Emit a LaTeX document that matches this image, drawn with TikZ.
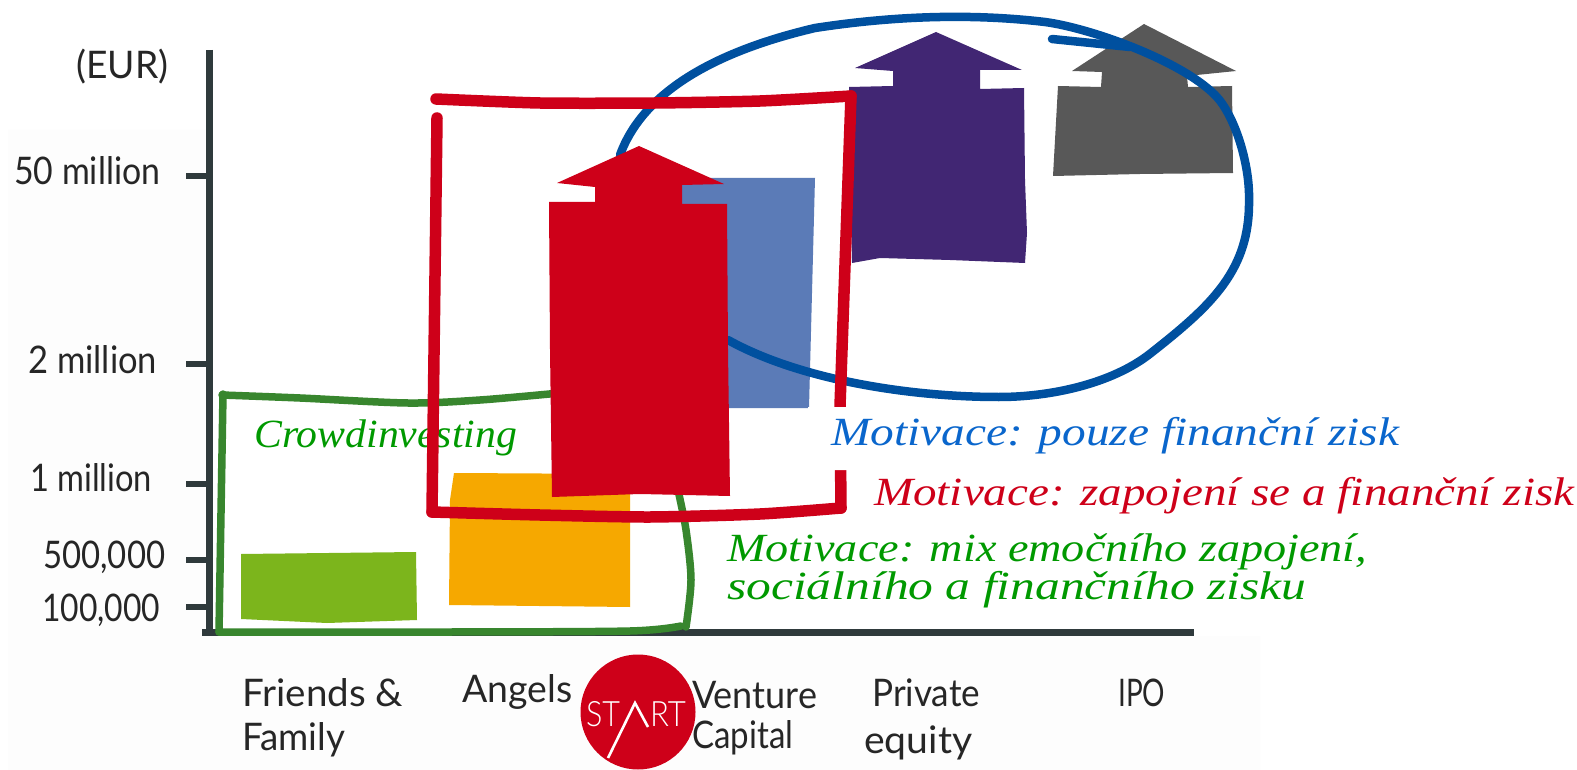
\documentclass[tikz,border=0pt]{standalone}
\usepackage{graphicx}
\usepackage{fontspec}
\setmainfont{Lato}
\newfontfamily\scriptf{Liberation Serif}
\newfontfamily\handf{Lato}
\newfontfamily\logof{Lato Light}
\definecolor{axisdark}{HTML}{2F3A3C}
\definecolor{ringblue}{HTML}{00509F}
\definecolor{startred}{HTML}{CE0019}
\definecolor{boxgreen}{HTML}{38862E}
\definecolor{txtgreen}{HTML}{009900}
\definecolor{txtblue}{HTML}{0A66CC}
\definecolor{barlime}{HTML}{7CB51C}
\definecolor{barorange}{HTML}{F6A800}
\definecolor{barblue}{HTML}{5B7BB7}
\definecolor{barpurple}{HTML}{412673}
\definecolor{bargrey}{HTML}{585858}
\definecolor{paper}{HTML}{FDFDFD}
\newcommand\fitw[2]{\resizebox{#1pt}{\height}{#2}}
\tikzset{
  x=1pt,y=-1pt,
  axisline/.style={draw=axisdark,line width=7pt},
  tickline/.style={draw=axisdark,line width=6.5pt},
  redbox/.style={draw=startred,line width=11.5pt,line join=round,line cap=round},
  greenbox/.style={draw=boxgreen,line width=7.5pt,line join=round,line cap=round},
  ring/.style={draw=ringblue,line width=8.5pt,line cap=round},
  hand/.style={inner sep=0pt,anchor=west,text=black!85,font=\handf\fontsize{38}{38}\selectfont},
  motive/.style={inner sep=0pt,anchor=base west,font=\scriptf\itshape\fontsize{40}{34}\selectfont},
}
\begin{document}
\begin{tikzpicture}
\useasboundingbox (0,0) rectangle (1577,770);
\fill[white] (0,0) rectangle (1577,770);
\fill[paper] (8,130) -- (205,130) -- (205,636) -- (1260,636) -- (1260,770) -- (8,770) -- cycle;
% bars
\fill[barlime] (241,554) -- (416,552) -- (417,620) -- (327,623) -- (241,619) -- cycle;
\fill[barorange] (454,473) -- (630,474) -- (630,607) -- (449,605) -- (450,500) -- cycle;
\fill[barblue] (680,178) -- (815,178) -- (809,408) -- (680,408) -- cycle;
\fill[barpurple] (936,32) -- (1022,70) -- (980,70) -- (980,89) -- (1024,88) -- (1025,180) -- (1027,233) -- (1025,263) -- (950,260) -- (880,258) -- (852,263) -- (849,87) -- (893,86) -- (893,71) -- (855,68) -- cycle;
\fill[bargrey] (1144,24) -- (1236,71) -- (1187,76) -- (1188,87) -- (1232,86) -- (1233,173) -- (1140,174) -- (1053,176) -- (1058,86) -- (1101,87) -- (1102,72) -- (1072,71) -- cycle;
% axes
\draw[axisline] (209,50) -- (209,632);
\draw[axisline] (202,632) -- (1194,632);
\foreach \yy in {176,364,484,560,607} \draw[tickline] (186,\yy) -- (209,\yy);
% blue ring
\draw[ring] (620,155) .. controls (640,100) and (700,55) .. (815,28)
  .. controls (880,18) and (960,12) .. (1045,22)
  .. controls (1090,28) and (1180,60) .. (1215,95)
  .. controls (1235,115) and (1250,165) .. (1249,200)
  .. controls (1250,270) and (1212,305) .. (1151,353)
  .. controls (1112,384) and (1050,397) .. (999,397)
  .. controls (910,397) and (800,380) .. (728,340);
\draw[ring] (1052,39) -- (1130,47);
% green box
\draw[greenbox] plot[smooth,tension=0.5] coordinates {(222,395) (300,398) (408,403) (480,400) (560,393)};
\draw[greenbox] (223,394) -- (219,632);
\draw[greenbox] plot[smooth,tension=0.5] coordinates {(219,632) (450,632) (630,631) (681,626)};
\draw[greenbox] plot[smooth,tension=0.5] coordinates {(678,490) (686,530) (691,580) (686,627)};
% handwritten chart labels
\node[hand] (eur) at (76,67) {\fitw{92}{(EUR)}};
\node[hand] (m50) at (14,171) {\fitw{146}{50 million}};
\node[hand] (m2) at (28,360) {\fitw{129}{2 million}};
\node[hand] (m1) at (30,478) {\fitw{122}{1 million}};
\node[hand] (k500) at (43,557) {\fitw{122}{500,000}};
\node[hand] (k100) at (42,610) {\fitw{118}{100,000}};
\node[hand] (ff1) at (242,693) {\fitw{161}{Friends \&}};
\node[hand] (ff2) at (242,740) {\fitw{103}{Family}};
\node[hand] (ang) at (462,692) {\fitw{110}{Angels}};
\node[hand] (vc1) at (692,695) {\fitw{125}{Venture}};
\node[hand] (vc2) at (692,738) {\fitw{101}{Capital}};
\node[hand] (pe1) at (872,693) {\fitw{108}{Private}};
\node[hand] (pe2) at (864,743) {\fitw{108}{equity}};
\node[hand] (ipo) at (1118,693) {\fitw{47}{IPO}};
% crowdinvesting label, below red box
\node[motive,text=txtgreen] (crowd) at (254,447) {\fitw{263}{Crowdinvesting}};
% red box
\draw[redbox] plot[smooth,tension=0.4] coordinates {(436,99) (540,103) (655,103) (760,101) (851,96)};
\draw[redbox] (437,118) -- (432,512);
\draw[redbox] (851,96) -- (840,406) -- (841,508);
\draw[redbox] plot[smooth,tension=0.4] coordinates {(432,512) (540,515) (650,517) (760,514) (841,508)};
% red arrow
\fill[startred] (639,146) -- (724,184) -- (682,185) -- (682,204) -- (727,204) -- (728,350) -- (730,496) -- (640,494) -- (552,497) -- (550,350) -- (549,202) -- (595,202) -- (595,187) -- (557,183) -- cycle;
% white patch behind the text
\fill[white] (808,407) -- (1300,407) -- (1300,470) -- (832,470) -- (832,450) -- (808,450) -- cycle;
% motivation labels
\node[motive,text=txtblue] (mb) at (831,445) {\fitw{568}{Motivace: pouze finanční zisk}};
\node[motive,text=startred] (mr) at (874,505) {\fitw{700}{Motivace: zapojení se a finanční zisk}};
\node[motive,text=txtgreen,align=left] (mg) at (727,599) {\fitw{640}{Motivace: mix emočního zapojení,}\\\fitw{579}{sociálního a finančního zisku}};
% START logo
\node[circle,fill=startred,minimum size=115pt,inner sep=0pt] (logo) at (638,712) {};
\node[inner sep=0pt,text=white,font=\logof\fontsize{35}{35}\selectfont] (st) at (603,714) {\fitw{34}{ST}};
\node[inner sep=0pt,text=white,font=\logof\fontsize{35}{35}\selectfont] (rt) at (668,714) {\fitw{36}{RT}};
\draw[white,line width=2.6pt] (608,758) -- (635,703) -- (648,727);
\end{tikzpicture}
\end{document}
